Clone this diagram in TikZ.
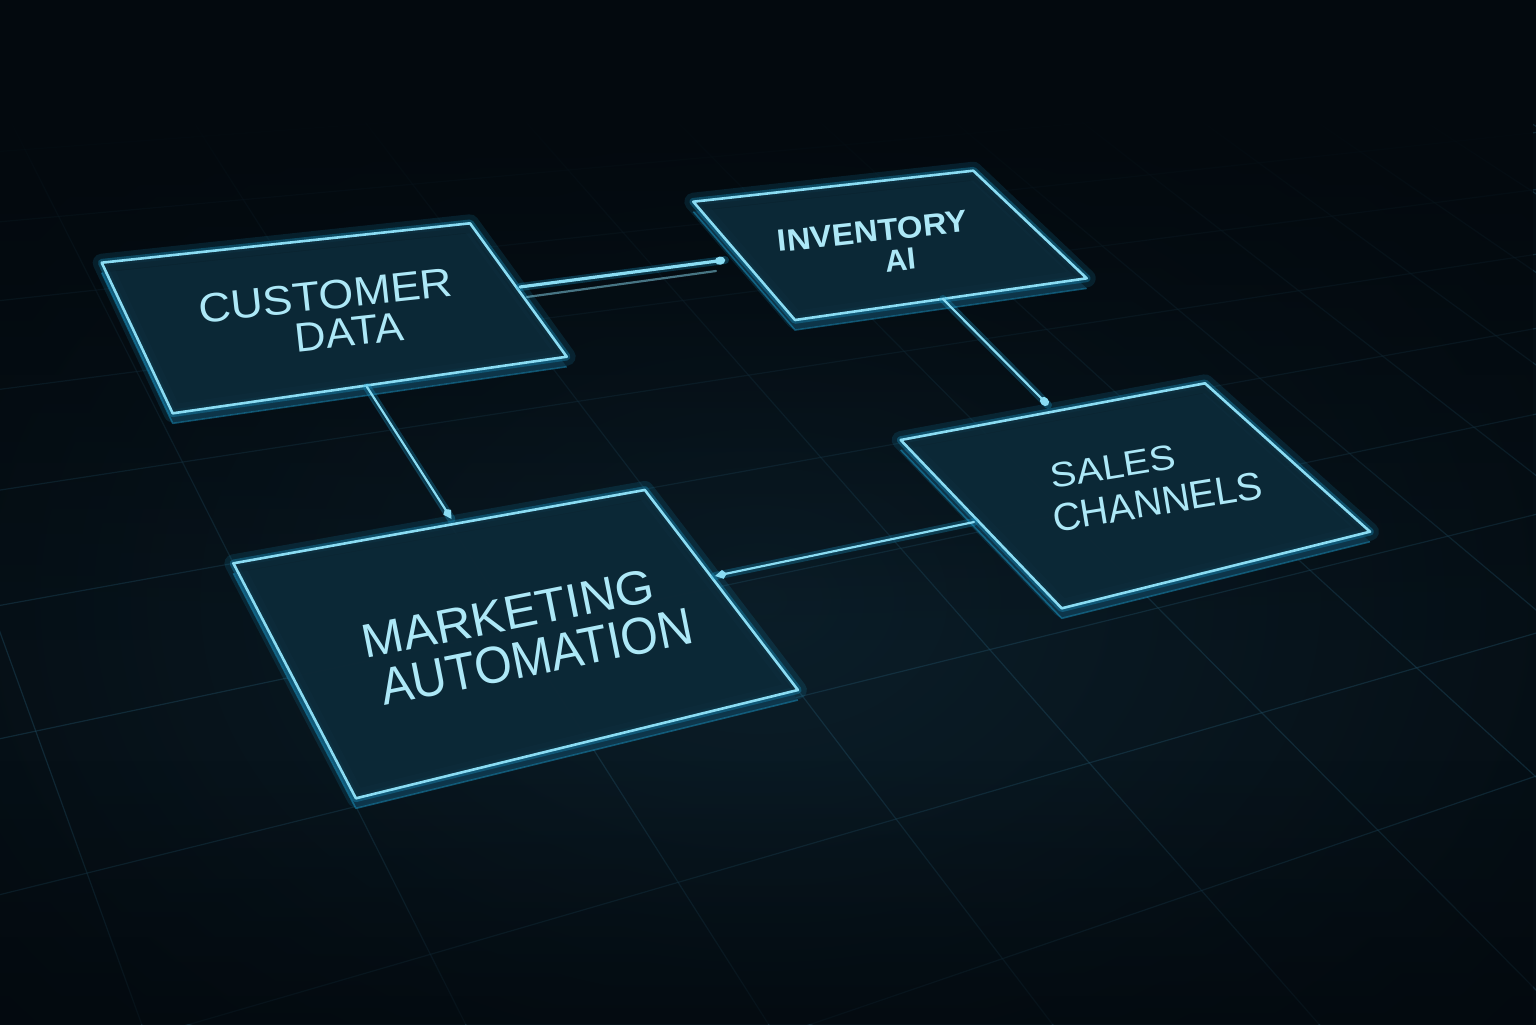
\documentclass[tikz,border=0pt]{standalone}
\usepackage{graphicx}
\usepackage{fontspec}
\setmainfont{Liberation Sans}
\usetikzlibrary{calc,arrows.meta,fadings}
\definecolor{bgc}{HTML}{03090E}
\definecolor{midc}{HTML}{0B1E29}
\definecolor{gridc}{HTML}{1F4C61}
\definecolor{panelc}{HTML}{0C2937}
\definecolor{slabc}{HTML}{0C2636}
\definecolor{edgec}{HTML}{8ADCF3}
\definecolor{glowc}{HTML}{1BA3D6}
\definecolor{textc}{HTML}{ADE8F7}
\tikzfading[name=fadetop, top color=transparent!0, bottom color=transparent!100]
\tikzfading[name=fadebottom, top color=transparent!100, bottom color=transparent!0]
\tikzset{
  gridline/.style={draw=gridc, line width=0.6pt, opacity=0.42},
  panelglowa/.style={draw=glowc, line width=9pt, opacity=0.14, line join=round},
  panelglowb/.style={draw=glowc, line width=3.8pt, opacity=0.32, line join=round},
  panelface/.style={fill=panelc, fill opacity=0.85, draw=edgec, line width=1.3pt, line join=round},
  slabface/.style={fill=slabc, fill opacity=0.9},
  slabedge/.style={draw=glowc, opacity=0.45, line width=0.8pt, line join=round},
  link/.style={draw=edgec, line width=1.1pt, line cap=round},
  linkglow/.style={draw=glowc, line width=4pt, opacity=0.28, line cap=round},
  dottip/.style={-{Circle[length=5pt,width=4pt,fill=edgec]}},
  kitetip/.style={-{Kite[length=6pt,width=4.5pt,inset=2pt,fill=edgec]}},
  lbl/.style={text=textc, inner sep=0pt, anchor=center, align=center},
}
\newcommand{\drawpanel}[1]{%
  \path[slabface] ($(#1TL)+(0,10)$) -- ($(#1TR)+(0,10)$) -- ($(#1BR)+(0,10)$) -- ($(#1BL)+(0,10)$) -- cycle;
  \draw[slabedge] ($(#1TL)+(0,10)$) -- ($(#1BL)+(0,10)$) -- ($(#1BR)+(0,10)$);
  \draw[panelglowa] (#1TL) -- (#1TR) -- (#1BR) -- (#1BL) -- cycle;
  \draw[panelglowb] (#1TL) -- (#1TR) -- (#1BR) -- (#1BL) -- cycle;
  \draw[panelface] (#1TL) -- (#1TR) -- (#1BR) -- (#1BL) -- cycle;
}
\begin{document}
\begin{tikzpicture}[x=0.5pt,y=-0.5pt]
\useasboundingbox (0,0) rectangle (1536,1024);
\begin{scope}
  \clip (0,0) rectangle (1536,1024);
  \fill[bgc] (0,0) rectangle (1536,1024);
  \shade[inner color=midc, outer color=bgc] (760,600) ellipse [x radius=560pt, y radius=400pt];
  % perspective floor grid
  \coordinate (vpd) at (-680,-1250);
  \coordinate (vph) at (4300,-170);
  \foreach \u in {-0.5,0,...,7} {
    \pgfmathsetmacro{\den}{1+0.11255*(\u)}
    \pgfmathsetmacro{\px}{(483.97*(\u)+233.4)/\den}
    \pgfmathsetmacro{\py}{(-19.13*(\u)+563.3)/\den}
    \draw[gridline] (vpd) -- ($(vpd)!1.9!(\px,\py)$);
  }
  \foreach \v in {-4,-3.5,...,2} {
    \pgfmathsetmacro{\den}{1-0.11826*(\v)}
    \pgfmathsetmacro{\px}{(80.42*(\v)+233.4)/\den}
    \pgfmathsetmacro{\py}{(147.83*(\v)+563.3)/\den}
    \draw[gridline] (vph) -- ($(vph)!1.25!(\px,\py)$);
  }
  \fill[bgc] (0,0) rectangle (1536,110);
  \fill[bgc, path fading=fadetop] (0,109) rectangle (1536,640);
  \fill[bgc, opacity=0.75, path fading=fadebottom] (0,760) rectangle (1536,1024);
\end{scope}

% panel corners
\coordinate (cdTL) at (101.7,262.7); \coordinate (cdTR) at (470,223.3);
\coordinate (cdBR) at (566.7,356.7); \coordinate (cdBL) at (172.7,413.3);
\coordinate (iaTL) at (693.3,201.7); \coordinate (iaTR) at (973.3,170.7);
\coordinate (iaBR) at (1086.7,278.3); \coordinate (iaBL) at (795,320);
\coordinate (scTL) at (900.7,440); \coordinate (scTR) at (1205,383.3);
\coordinate (scBR) at (1370,531.7); \coordinate (scBL) at (1061.7,608.3);
\coordinate (maTL) at (233.4,563.3); \coordinate (maTR) at (644.8,490);
\coordinate (maBR) at (797.9,690); \coordinate (maBL) at (355.9,798.3);

\drawpanel{cd}
\drawpanel{ia}
\drawpanel{sc}
\drawpanel{ma}

% connector ends
\coordinate (cdE) at (520,287);   \coordinate (iaW) at (725,260);
\coordinate (cdE2) at (527,297);  \coordinate (iaW2) at (716,271);
\coordinate (cdS) at (367,387);   \coordinate (maN) at (451.5,519);
\coordinate (iaS) at (943,299);   \coordinate (scN) at (1048,405);
\coordinate (scW) at (974,522);   \coordinate (maE) at (715,576);

\draw[linkglow] (cdE) -- (iaW);
\draw[link, line width=1.6pt, dottip] (cdE) -- (iaW);
\draw[link, opacity=0.5] (cdE2) -- (iaW2);
\draw[linkglow] (cdS) -- (maN);
\draw[link, kitetip] (cdS) -- (maN);
\draw[linkglow] (iaS) -- (scN);
\draw[link, dottip] (iaS) -- (scN);
\draw[linkglow] (scW) -- (maE);
\draw[link, kitetip] (scW) -- (maE);

% labels
\node[lbl, font=\fontsize{20.5}{19.6}\selectfont, rotate=6.2] (cdtext) at (337.3,313.5)
  {\scalebox{1.09}[1]{CUSTOMER}\hspace*{9.75pt}\\\hspace*{9.75pt}\scalebox{1.05}[1]{DATA}};
\node[lbl, font=\bfseries\fontsize{15.4}{15.9}\selectfont, rotate=6.2] (iatext) at (886.3,245.5)
  {\scalebox{1.07}[1]{INVENTORY}\hspace*{12.2pt}\\\hspace*{12.2pt}AI};
\node[lbl, font=\fontsize{17.5}{21.6}\selectfont, rotate=9.25] (sctext) at (1135.5,485)
  {\scalebox{1.12}[1]{SALES}\hspace*{19.15pt}\\\hspace*{19.15pt}{\fontsize{19.5}{21.6}\selectfont CHANNELS}};
\node[lbl, font=\fontsize{23.8}{24.6}\selectfont, rotate=11.3] (matext) at (522.5,636)
  {\scalebox{1.05}[1]{MARKETING}\hspace*{9.7pt}\\\hspace*{9.7pt}{\fontsize{26}{24.6}\selectfont\scalebox{0.93}[1]{AUTOMATION}}};
\end{tikzpicture}
\end{document}
